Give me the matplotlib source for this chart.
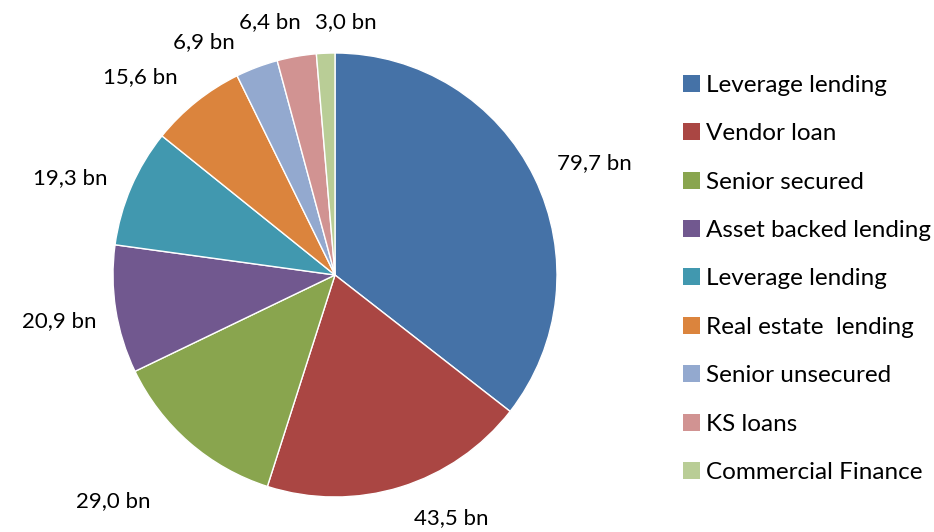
import numpy as np
import matplotlib
matplotlib.use("Agg")
import matplotlib.pyplot as plt
from matplotlib.patches import Patch

plt.rcParams['font.family'] = ['Lato', 'DejaVu Sans']

categories = [
    "Leverage lending", "Vendor loan", "Senior secured", "Asset backed lending",
    "Leverage lending", "Real estate  lending", "Senior unsecured", "KS loans",
    "Commercial Finance",
]
values = [79.7, 43.5, 29.0, 20.9, 19.3, 15.6, 6.9, 6.4, 3.0]
value_labels = [f"{v:.1f}".replace(".", ",") + " bn" for v in values]

colors = ["#4572A7", "#AA4643", "#89A54E", "#71588F", "#4198AF",
          "#DB843D", "#93A9CF", "#D19392", "#B9CD96"]

# label offsets (pixels) from the outer edge of each wedge at its mid angle
label_offsets = [(60, 14), (51, -31), (-76, -59), (-56, -12), (-61, 9),
                 (-56, 25), (-53, 25), (-27, 34), (20, 31)]

W, H = 934, 532
fig = plt.figure(figsize=(W / 100, H / 100), dpi=100)
cx, cy, R = 335, 275, 222
ax = fig.add_axes([(cx - R) / W, (H - cy - R) / H, 2 * R / W, 2 * R / H])

wedges, _ = ax.pie(values, colors=colors, startangle=90, counterclock=False,
                   radius=1.0, wedgeprops=dict(edgecolor="white", linewidth=1.0))
ax.set_xlim(-1, 1)
ax.set_ylim(-1, 1)
ax.set_aspect("equal")
ax.axis("off")

fs = 16
for w, lab, off in zip(wedges, value_labels, label_offsets):
    th = np.deg2rad((w.theta1 + w.theta2) / 2)
    ax.annotate(lab, xy=(np.cos(th), np.sin(th)), xytext=off,
                textcoords="offset pixels", ha="center", va="center",
                fontsize=fs, color="black", annotation_clip=False)

handles = [Patch(facecolor=c, edgecolor="none") for c in colors]
fig.legend(handles, categories, loc="upper left",
           bbox_to_anchor=(683 / W, 1 - 75 / H), frameon=False,
           fontsize=17.5, handlelength=0.7, handleheight=0.7,
           handletextpad=0.25, labelspacing=1.125, borderpad=0,
           borderaxespad=0)

fig.savefig("out.png", dpi=100)
